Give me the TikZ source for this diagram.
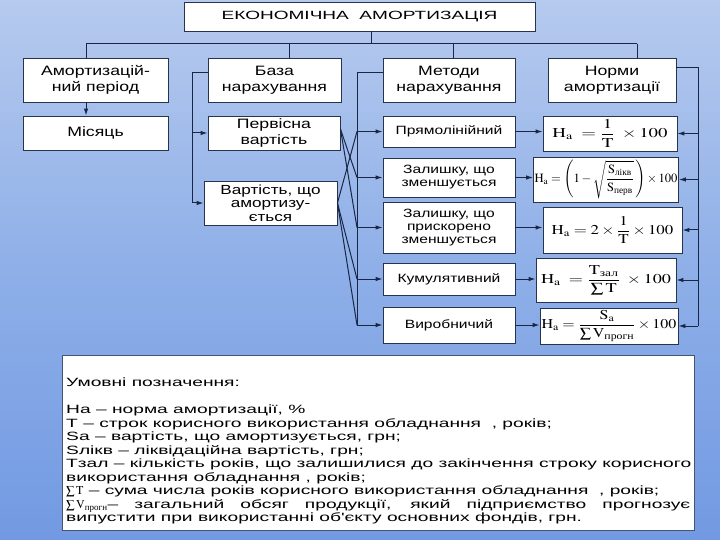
\documentclass[tikz,border=0pt]{standalone}
\usepackage{amsmath}
\usepackage{graphicx}
\usepackage{mathptmx}
\usepackage[no-math]{fontspec}
\setmainfont{Liberation Sans}[FakeStretch=1.3]
\newfontfamily\widefont{Liberation Sans}[FakeStretch=1.6]
\newfontfamily\serifcyr{Liberation Serif}
\usetikzlibrary{arrows.meta}

\definecolor{bgtop}{RGB}{182,202,238}
\definecolor{bgmid}{RGB}{142,175,232}
\definecolor{bgbot}{RGB}{114,153,226}
\definecolor{boxline}{RGB}{40,52,78}
\definecolor{conline}{RGB}{25,38,70}
\definecolor{legline}{RGB}{70,84,112}

\newcommand{\cyrsub}[1]{\text{\serifcyr #1}}
\newcommand{\stretchmath}[2]{\scalebox{#1}[1]{$#2$}}

\tikzset{
  box/.style={draw=boxline, fill=white, line width=0.9pt, align=center, inner sep=1pt},
  con/.style={draw=conline, line width=1pt},
  arr/.style={con, -{Latex[length=7pt,width=4.5pt]}},
  headtext/.style={font=\fontsize{13.6}{15.5}\selectfont},
  methtext/.style={font=\fontsize{12}{13}\selectfont},
  formtext/.style={font=\fontsize{13.5}{15}\selectfont},
}

\begin{document}
\begin{tikzpicture}[x=1pt,y=-1pt]
    % фон
    \shade[top color=bgtop, bottom color=bgbot, middle color=bgmid] (0,0) rectangle (720,540);
    \useasboundingbox (0,0) rectangle (720,540);

    % заголовок
    \node[box, minimum width=351, minimum height=29, font=\widefont\fontsize{11.9}{13}\selectfont] (title) at (359.5,16.5) {ЕКОНОМІЧНА\ \ АМОРТИЗАЦІЯ};

    % верхній рівень
    \node[box, headtext, minimum width=145, minimum height=44] (period) at (95.5,80) {Амортизацій-\\ний період};
    \node[box, headtext, minimum width=133, minimum height=44] (base) at (274.5,80) {База\\нарахування};
    \node[box, headtext, minimum width=132, minimum height=44] (methods) at (449,80) {Методи\\нарахування};
    \node[box, headtext, minimum width=128, minimum height=44] (norms) at (612,80) {Норми\\амортизації};

    % другий рівень
    \node[box, headtext, minimum width=145, minimum height=34] (month) at (95.5,133) {Місяць};
    \node[box, headtext, minimum width=132, minimum height=34] (orig) at (274,133) {Первісна\\вартість};
    \node[box, minimum width=133, minimum height=44, font=\fontsize{13.2}{13.6}\selectfont] (depr) at (270.5,203) {Вартість, що\\амортизу-\\ється};

    % методи
    \node[box, methtext, minimum width=132, minimum height=31] (m1) at (449,131.5) {Прямолінійний};
    \node[box, methtext, minimum width=132, minimum height=39] (m2) at (449,177.5) {Залишку, що\\зменшується};
    \node[box, methtext, minimum width=132, minimum height=51] (m3) at (449,227.5) {Залишку, що\\прискорено\\зменшується};
    \node[box, methtext, minimum width=132, minimum height=32] (m4) at (449,279) {Кумулятивний};
    \node[box, methtext, minimum width=132, minimum height=36] (m5) at (449,325) {Виробничий};

    % формули
    \node[box, formtext, minimum width=134, minimum height=35] (f1) at (610,133.5)
        {\stretchmath{1.4}{\mathrm{H}_{\mathrm{a}} \;= \dfrac{1}{\mathrm{T}}\;\times 100}};
    \node[box, minimum width=142, minimum height=45, font=\fontsize{12.6}{14}\selectfont] (f2) at (606,179.5)
        {$\mathrm{H}_{\mathrm{a}} = \left(1-\sqrt{\dfrac{\mathrm{S}_{\cyrsub{лікв}}}{\mathrm{S}_{\cyrsub{перв}}}}\,\right)\times 100$};
    \node[box, formtext, minimum width=139, minimum height=46] (f3) at (612.5,230)
        {\stretchmath{1.25}{\mathrm{H}_{\mathrm{a}} = 2\times\dfrac{1}{\mathrm{T}}\times 100}};
    \node[box, formtext, minimum width=140, minimum height=44] (f4) at (606,280)
        {\stretchmath{1.35}{\mathrm{H}_{\mathrm{a}} \;= \dfrac{\mathrm{T}_{\cyrsub{зал}}}{\sum \mathrm{T}}\;\times 100}};
    \node[box, formtext, minimum width=138, minimum height=36] (f5) at (609,326)
        {\stretchmath{1.18}{\mathrm{H}_{\mathrm{a}} = \dfrac{\mathrm{S}_{\mathrm{a}}}{\sum \mathrm{V}_{\cyrsub{прогн}}}\times 100}};

    % шина від заголовка
    \coordinate (bus) at (371,44);
    \coordinate (d1) at (86,44);
    \coordinate (d2) at (289,44);
    \coordinate (d3) at (453,44);
    \coordinate (d4) at (637,44);
    \draw[con] (title.south -| bus) -- (bus);
    \draw[con] (d1) -- (d4);
    \foreach \n/\d in {period/d1, base/d2, methods/d3, norms/d4}
        \draw[con] (\d) -- (\n.north -| \d);

    % період -> місяць
    \draw[arr] (period.south -| d1) -- (month.north -| d1);

    % база нарахування
    \coordinate (bl) at (192,73);
    \draw[arr] (base.west |- bl) -- (bl) |- (depr.west);
    \draw[arr] (bl |- orig.west) -- (orig.west);

    % методи нарахування
    \coordinate (ml) at (357,73);
    \draw[con] (methods.west |- ml) -- (ml) -- (ml |- m5.west);
    \foreach \m in {m1,m2,m3,m4,m5}
        \draw[arr] (ml |- \m.west) -- (\m.west);

    % перехресні лінії
    \foreach \m in {m2,m3}
        \draw[con] ([yshift=4pt]orig.east) -- (ml |- \m.west);
    \foreach \m in {m1,m4,m5}
        \draw[con] (depr.east) -- (ml |- \m.west);

    % метод -> формула
    \foreach \m/\f in {m1/f1, m2/f2, m3/f3, m4/f4, m5/f5}
        \draw[arr] (\m.east) -- (\m.east -| \f.west);

    % норми амортизації
    \coordinate (nr) at (698,68);
    \draw[con] (norms.east |- nr) -- (nr) -- (nr |- f5.east);
    \foreach \f in {f1,f2,f3,f4,f5}
        \draw[arr] (nr |- \f.east) -- (\f.east);

    % умовні позначення
    \node[box, draw=legline, minimum width=632, minimum height=175, anchor=north west] (legend) at (62,355) {};
    \node[anchor=north west, align=left, inner sep=0pt, font=\widefont\fontsize{12}{13.5}\selectfont] (legendtext) at (66,378)
        {Умовні позначення:\\[13.5pt]
         На – норма амортизації, \%\\
         Т – строк корисного використання обладнання\ \ , років;\\
         Sa – вартість, що амортизується, грн;\\
         Sлікв – ліквідаційна вартість, грн;\\
         Тзал – кількість років, що залишилися до закінчення строку корисного\\
         використання обладнання , років;\\
         $\sum\mathrm{T}$\ – сума числа років корисного використання обладнання\ \ , років;\\
         \makebox[624pt][s]{$\sum\mathrm{V}_{\cyrsub{прогн}}$– загальний обсяг продукції, який підприємство прогнозує}\\
         випустити при використанні об'єкту основних фондів, грн.};
\end{tikzpicture}
\end{document}
